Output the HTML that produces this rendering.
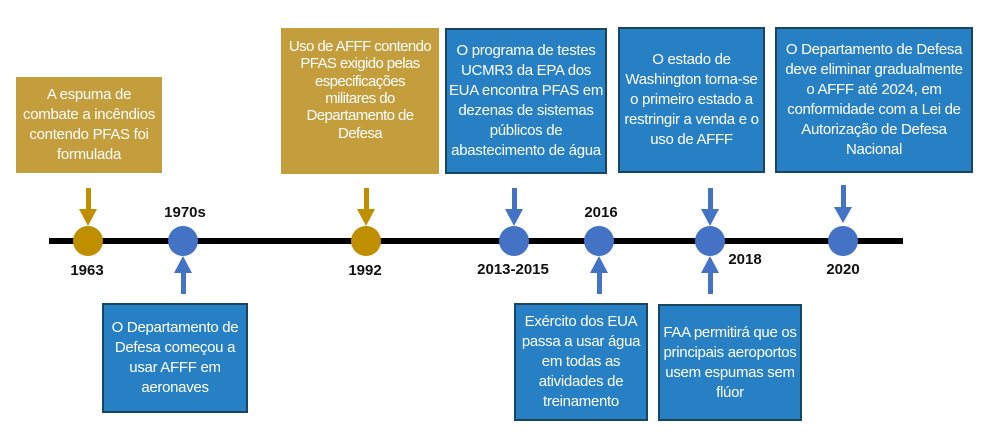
<!DOCTYPE html>
<html><head><meta charset="utf-8"><style>
body{margin:0;width:982px;height:439px;background:#fff;position:relative;overflow:hidden;font-family:"Liberation Sans",sans-serif;}
.b{position:absolute;box-sizing:border-box;color:#fff;font-size:15px;line-height:20px;text-align:center;display:flex;align-items:center;justify-content:center;letter-spacing:-0.3px}
.g{background:#C49D3C;}
.u{background:#2780C4;border:2px solid #19465f;}
.l{position:absolute;font-weight:bold;font-size:15px;color:#111;transform:translateX(-50%);}
</style></head><body>
<div class="b g" style="left:16px;top:77px;width:146px;height:96px;">A espuma de<br>combate a incêndios<br>contendo PFAS foi<br>formulada</div>
<div class="b g" style="left:281px;top:28px;width:158px;height:146px;padding-bottom:22px;line-height:17.4px;font-size:15px;letter-spacing:-0.6px">Uso de AFFF contendo<br>PFAS exigido pelas<br>especificações<br>militares do<br>Departamento de<br>Defesa</div>
<div class="b u" style="left:445px;top:28px;width:162px;height:146px;">O programa de testes<br>UCMR3 da EPA dos<br>EUA encontra PFAS em<br>dezenas de sistemas<br>públicos de<br>abastecimento de água</div>
<div class="b u" style="left:618px;top:27px;width:147px;height:146px;">O estado de<br>Washington torna-se<br>o primeiro estado a<br>restringir a venda e o<br>uso de AFFF</div>
<div class="b u" style="left:775px;top:27px;width:198px;height:146px;">O Departamento de Defesa<br>deve eliminar gradualmente<br>o AFFF até 2024, em<br>conformidade com a Lei de<br>Autorização de Defesa<br>Nacional</div>
<div class="b u" style="left:102px;top:303px;width:146px;height:110px;">O Departamento de<br>Defesa começou a<br>usar AFFF em<br>aeronaves</div>
<div class="b u" style="left:514px;top:303px;width:134px;height:118px;">Exército dos EUA<br>passa a usar água<br>em todas as<br>atividades de<br>treinamento</div>
<div class="b u" style="left:658px;top:304px;width:144px;height:117px;">FAA permitirá que os<br>principais aeroportos<br>usem espumas sem<br>flúor</div>
<svg width="982" height="439" style="position:absolute;left:0;top:0">
<rect x="49" y="238" width="854" height="6" fill="#000"/>
<g fill="#BF8F00">
<rect x="86" y="188" width="5" height="22"/><polygon points="79,209 97,209 88,226"/>
<rect x="364" y="188" width="5" height="22"/><polygon points="357,209 375,209 366,226"/>
<circle cx="88" cy="241" r="15"/><circle cx="366" cy="241" r="15"/>
</g>
<g fill="#4472C4">
<circle cx="183" cy="241" r="15"/><circle cx="514" cy="241" r="15"/><circle cx="599" cy="241" r="15"/><circle cx="710" cy="241" r="15"/><circle cx="843" cy="241" r="15"/>
<rect x="512" y="188" width="5" height="22"/><polygon points="505,209 523,209 514,226"/>
<rect x="708" y="188" width="5" height="22"/><polygon points="701,209 719,209 710,226"/>
<rect x="841" y="185" width="5" height="23"/><polygon points="834,207 852,207 843,223"/>
<rect x="181" y="272" width="5" height="22"/><polygon points="174,273 192,273 183,256"/>
<rect x="597" y="272" width="5" height="22"/><polygon points="590,273 608,273 599,256"/>
<rect x="708" y="272" width="5" height="22"/><polygon points="701,273 719,273 710,256"/>
</g>
</svg>
<div class="l" style="left:87px;top:262px">1963</div>
<div class="l" style="left:185px;top:204px">1970s</div>
<div class="l" style="left:365px;top:262px">1992</div>
<div class="l" style="left:513px;top:261px">2013-2015</div>
<div class="l" style="left:601px;top:204px">2016</div>
<div class="l" style="left:745px;top:251px">2018</div>
<div class="l" style="left:843px;top:261px">2020</div>
</body></html>
